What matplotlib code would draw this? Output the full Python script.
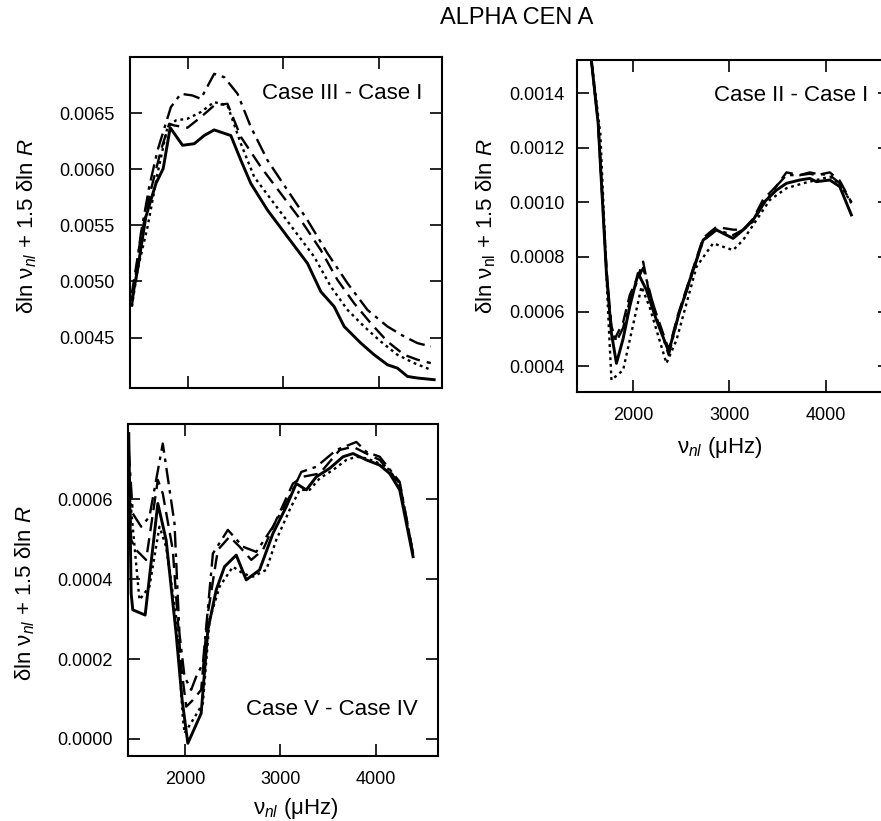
"""
ALPHA CEN A — rozdíly frekvencí mezi modely (tři panely).
"""
import numpy as np
import matplotlib
matplotlib.use("Agg")
import matplotlib.pyplot as plt

plt.rcParams['font.family'] = ['Liberation Sans', 'DejaVu Sans']
plt.rcParams['mathtext.fontset'] = 'custom'
plt.rcParams['mathtext.rm'] = 'Liberation Sans'
plt.rcParams['mathtext.it'] = 'Liberation Sans:italic'

# ── Panel 1: Case III - Case I ───────────────────────────────────────────────
p1_solid_x = [1419, 1478, 1565, 1670, 1746, 1819, 1948, 2070, 2174, 2278, 2452, 2557, 2661,
              2835, 3043, 3252, 3391, 3530, 3635, 3809, 3948, 4087, 4191, 4296, 4400, 4574]
p1_solid_y = [4.835, 5.101, 5.576, 5.872, 6.005, 6.370, 6.213, 6.227, 6.300, 6.350, 6.300, 6.079,
              5.872, 5.635, 5.398, 5.161, 4.909, 4.776, 4.598, 4.450, 4.346, 4.257, 4.227,
              4.153, 4.139, 4.124]
p1_dot_x = [1419, 1478, 1583, 1687, 1791, 1878, 2000, 2139, 2278, 2417, 2557, 2696, 2904,
            3113, 3322, 3496, 3670, 3843, 4017, 4191, 4365, 4539]
p1_dot_y = [4.776, 5.100, 5.487, 5.961, 6.376, 6.435, 6.450, 6.509, 6.598, 6.568, 6.227, 5.931,
            5.694, 5.457, 5.220, 4.953, 4.746, 4.598, 4.464, 4.346, 4.272, 4.213]
p1_dash_x = [1419, 1513, 1617, 1722, 1809, 1861, 2000, 2139, 2278, 2417, 2557, 2765, 2974,
             3183, 3391, 3565, 3739, 3913, 4087, 4261, 4400, 4539]
p1_dash_y = [4.894, 5.398, 5.813, 6.168, 6.405, 6.390, 6.370, 6.464, 6.568, 6.583, 6.287, 6.020,
             5.783, 5.546, 5.279, 5.013, 4.805, 4.627, 4.464, 4.346, 4.302, 4.272]
p1_dd_x = [1419, 1513, 1600, 1687, 1826, 1930, 2052, 2139, 2278, 2383, 2522, 2661, 2835,
           3043, 3252, 3461, 3670, 3878, 4087, 4261, 4400, 4539]
p1_dd_y = [4.776, 5.427, 5.842, 6.168, 6.553, 6.672, 6.657, 6.627, 6.850, 6.820, 6.672, 6.376,
           6.079, 5.813, 5.546, 5.250, 4.983, 4.746, 4.598, 4.509, 4.450, 4.420]

# ── Panel 2: Case II - Case I ────────────────────────────────────────────────
p2_solid_x = [1567, 1637, 1723, 1775, 1827, 1896, 1965, 2052, 2138, 2242, 2370, 2467, 2588,
              2727, 2865, 3038, 3142, 3246, 3349, 3488, 3592, 3730, 3834, 3903, 4042, 4145, 4266]
p2_solid_y = [15.2, 12.9, 7.4, 5.2, 4.1, 5.0, 6.18, 7.4, 6.79, 5.69, 4.53, 5.81, 7.15, 8.62,
              8.99, 8.68, 8.99, 9.35, 9.97, 10.45, 10.70, 10.82, 10.88, 10.76, 10.82, 10.58, 9.54]
p2_dash_x = [1567, 1637, 1723, 1775, 1810, 1896, 1965, 2052, 2104, 2160, 2242, 2370, 2467,
             2588, 2727, 2865, 3038, 3142, 3246, 3349, 3488, 3592, 3730, 3834, 3903, 4042, 4145, 4266]
p2_dash_y = [15.2, 12.9, 7.6, 5.3, 5.0, 5.6, 6.6, 7.3, 7.83, 6.8, 5.9, 4.6, 5.9, 7.2, 8.7, 9.1,
             9.0, 9.0, 9.4, 10.1, 10.6, 11.1, 11.0, 11.05, 11.0, 11.1, 10.8, 10.0]
p2_dot_x = [1567, 1660, 1740, 1775, 1896, 1965, 2087, 2170, 2346, 2450, 2658, 2830, 3038,
            3142, 3280, 3420, 3592, 3765, 3903, 4042, 4145, 4266]
p2_dot_y = [15.2, 12.5, 6.0, 3.49, 3.85, 4.95, 6.91, 6.18, 4.10, 4.95, 7.64, 8.50, 8.25, 8.62,
            9.35, 10.09, 10.52, 10.70, 10.82, 10.94, 10.70, 9.97]
p2_dd_x = [1567, 1637, 1723, 1775, 1827, 1896, 1965, 2052, 2104, 2160, 2242, 2370, 2467,
           2588, 2727, 2865, 3038, 3142, 3246, 3349, 3488, 3592, 3730, 3834, 3903, 4042, 4145, 4266]
p2_dd_y = [15.2, 12.9, 7.5, 5.45, 4.9, 5.4, 6.4, 7.2, 7.6, 6.9, 5.8, 4.4, 5.8, 7.1, 8.6, 9.0,
           8.8, 9.0, 9.3, 9.9, 10.6, 11.0, 11.0, 11.1, 11.05, 11.0, 10.7, 10.0]

# ── Panel 3: Case V - Case IV ────────────────────────────────────────────────
p3_solid_x = [1408, 1433, 1450, 1580, 1713, 1800, 1905, 1968, 2028, 2168, 2238, 2326, 2413,
              2536, 2641, 2781, 2921, 3061, 3166, 3271, 3377, 3517, 3657, 3762, 3902, 4042,
              4147, 4252, 4392]
p3_solid_y = [7.64, 3.64, 3.23, 3.10, 5.89, 4.98, 2.64, 0.975, -0.108, 0.642, 2.73, 3.73, 4.31,
              4.60, 3.98, 4.23, 5.14, 5.81, 6.39, 6.23, 6.56, 6.77, 7.06, 7.14, 6.98, 6.85,
              6.64, 6.23, 4.56]
p3_dot_x = [1408, 1520, 1625, 1730, 1800, 1905, 1975, 1993, 2081, 2186, 2256, 2361, 2501,
            2606, 2711, 2851, 2956, 3096, 3201, 3306, 3412, 3552, 3692, 3797, 3902, 4042,
            4147, 4252, 4392]
p3_dot_y = [6.39, 3.48, 3.81, 5.31, 4.81, 3.06, 0.558, 0.142, 0.475, 0.892, 2.98, 3.81, 4.31,
            4.14, 4.06, 4.23, 4.98, 5.73, 6.23, 6.23, 6.52, 6.73, 6.98, 7.06, 7.02, 6.89,
            6.73, 6.31, 4.64]
p3_dash_x = [1408, 1433, 1485, 1590, 1713, 1765, 1870, 1958, 2011, 2081, 2168, 2238, 2343,
             2466, 2571, 2694, 2816, 2956, 3131, 3236, 3412, 3622, 3762, 3902, 4042, 4252, 4392]
p3_dash_y = [6.81, 4.98, 4.73, 4.48, 6.48, 6.14, 4.73, 1.81, 0.808, 0.975, 1.23, 3.14, 4.73,
             5.06, 4.81, 4.48, 4.73, 5.48, 6.39, 6.56, 6.64, 7.23, 7.31, 7.14, 6.98, 6.39, 4.64]
p3_dd_x = [1408, 1450, 1538, 1625, 1765, 1888, 1940, 1993, 2063, 2116, 2186, 2291, 2448,
           2606, 2746, 2921, 3096, 3219, 3377, 3587, 3797, 3902, 4042, 4252, 4392]
p3_dd_y = [7.23, 5.64, 5.31, 5.56, 7.39, 5.39, 2.64, 1.56, 1.23, 1.56, 1.89, 4.64, 5.23, 4.81,
           4.68, 5.31, 6.06, 6.68, 6.81, 7.23, 7.43, 7.18, 7.06, 6.43, 4.64]

xticks = [2000, 3000, 4000]
p1_yticks = [0.0045, 0.0050, 0.0055, 0.0060, 0.0065]
p2_yticks = [0.0004, 0.0006, 0.0008, 0.0010, 0.0012, 0.0014]
p3_yticks = [0.0000, 0.0002, 0.0004, 0.0006]

LW = 1.7
STYLES = dict(solid=dict(ls='-', lw=LW + 0.4),
              dot=dict(ls=(0, (1.2, 1.6)), lw=LW),
              dash=dict(ls=(0, (6, 3)), lw=LW),
              dd=dict(ls=(0, (7, 2.5, 1.5, 2.5)), lw=LW))

ylab = r'δln ν$_{nl}$ + 1.5 δln $R$'
ylab2 = r'δln ν$_{\mathrm{nl}}$ + 1.5 δln $R$'
xlab = r'ν$_{nl}$ (μHz)'


def style_axes(ax, yticks, ylim, fmt, show_xlab):
    ax.set_xlim(1400, 4655)
    ax.set_ylim(*ylim)
    ax.set_xticks(xticks)
    ax.set_yticks(yticks)
    ax.set_yticklabels([fmt.format(v) for v in yticks])
    ax.tick_params(direction='in', length=8.5, width=1.2, top=True, right=True,
                   labelsize=13, pad=11)
    ax.tick_params(axis='x', pad=11)
    if not show_xlab:
        ax.set_xticklabels([])
    for s in ax.spines.values():
        s.set_linewidth(1.5)


def draw(ax, sx, sy, dx, dy, hx, hy, ax_, ay, scale):
    ax.plot(sx, np.array(sy) * scale, color='k', **STYLES['solid'])
    ax.plot(dx, np.array(dy) * scale, color='k', **STYLES['dot'])
    ax.plot(hx, np.array(hy) * scale, color='k', **STYLES['dash'])
    ax.plot(ax_, np.array(ay) * scale, color='k', **STYLES['dd'])


fig = plt.figure(figsize=(8.81, 8.21), dpi=100)

ax1 = fig.add_axes([0.1476, 0.5274, 0.354, 0.4032])
draw(ax1, p1_solid_x, p1_solid_y, p1_dot_x, p1_dot_y, p1_dash_x, p1_dash_y,
     p1_dd_x, p1_dd_y, 1e-3)
style_axes(ax1, p1_yticks, (0.00405, 0.0070), '{:.4f}', False)
ax1.text(0.936, 0.891, 'Case III - Case I', transform=ax1.transAxes,
         ha='right', va='center', fontsize=16)
ax1.text(-0.33, 0.49, ylab, transform=ax1.transAxes, rotation=90,
         ha='center', va='center', fontsize=16)

ax2 = fig.add_axes([0.655, 0.5229, 0.355, 0.404])
draw(ax2, p2_solid_x, p2_solid_y, p2_dot_x, p2_dot_y, p2_dash_x, p2_dash_y,
     p2_dd_x, p2_dd_y, 1e-4)
style_axes(ax2, p2_yticks, (0.000306, 0.001522), '{:.4f}', True)
ax2.set_xlim(1418, 4665)
ax2.tick_params(axis='y', pad=9)
ax2.text(0.93, 0.894, 'Case II - Case I', transform=ax2.transAxes,
         ha='right', va='center', fontsize=16)
ax2.text(-0.29, 0.5, ylab2, transform=ax2.transAxes, rotation=90,
         ha='center', va='center', fontsize=16)
ax2.text(0.457, -0.167, xlab, transform=ax2.transAxes,
         ha='center', va='center', fontsize=16)

ax3 = fig.add_axes([0.1453, 0.0792, 0.352, 0.4044])
draw(ax3, p3_solid_x, p3_solid_y, p3_dot_x, p3_dot_y, p3_dash_x, p3_dash_y,
     p3_dd_x, p3_dd_y, 1e-4)
style_axes(ax3, p3_yticks, (-0.0000425, 0.000788), '{:.4f}', True)
ax3.text(0.935, 0.139, 'Case V - Case IV', transform=ax3.transAxes,
         ha='right', va='center', fontsize=16)
ax3.text(-0.332, 0.49, ylab, transform=ax3.transAxes, rotation=90,
         ha='center', va='center', fontsize=16)
ax3.text(0.54, -0.157, xlab, transform=ax3.transAxes,
         ha='center', va='center', fontsize=16)

fig.text(0.586, 0.978, 'ALPHA CEN A', ha='center', va='center', fontsize=17)

fig.savefig('out.png', dpi=100)
